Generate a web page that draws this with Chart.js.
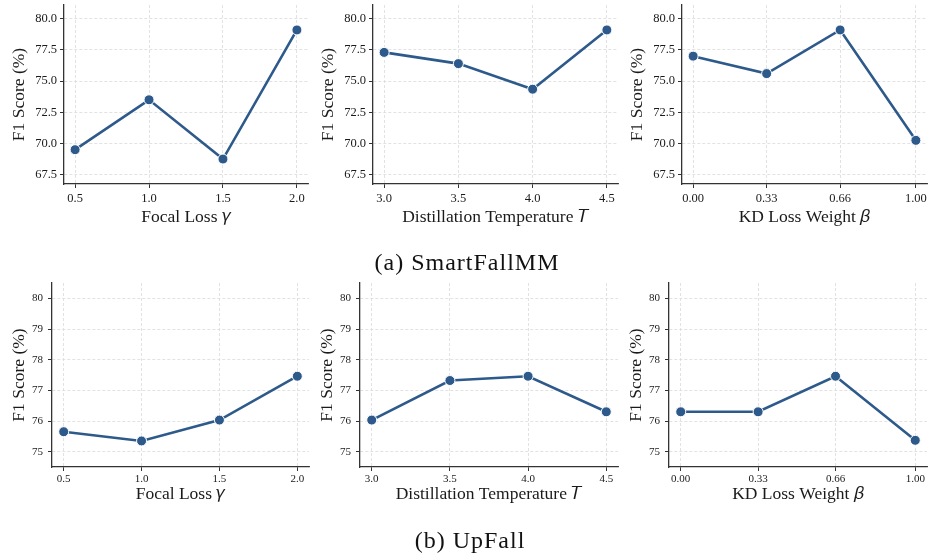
<!DOCTYPE html>
<html>
<head>
<meta charset="utf-8">
<script src="https://cdn.jsdelivr.net/npm/chart.js@4.4.1/dist/chart.umd.min.js"></script>
<style>
  html, body { margin: 0; padding: 0; background: #fff; }
  body { width: 928px; height: 554px; overflow: hidden; position: relative; }
  canvas { position: absolute; }
  .caption {
    position: absolute;
    font-family: 'Liberation Serif', serif;
    font-size: 24px;
    letter-spacing: 1px;
    color: #111;
    white-space: nowrap;
    transform: translate(-50%, -50%);
  }
</style>
</head>
<body>
<canvas id="p1"></canvas>
<canvas id="p2"></canvas>
<canvas id="p3"></canvas>
<canvas id="p4"></canvas>
<canvas id="p5"></canvas>
<canvas id="p6"></canvas>
<div class="caption" style="left:467px; top:262px">(a) SmartFallMM</div>
<div class="caption" style="left:470px; top:540px">(b) UpFall</div>

<script>
// x values swept in each study
const gammaValues = [0.5, 1.0, 1.5, 2.0];
const tempValues = [3.0, 3.5, 4.0, 4.5];
const betaValues = [0.00, 0.33, 0.66, 1.00];
const gammaLabels = ["0.5", "1.0", "1.5", "2.0"];
const tempLabels = ["3.0", "3.5", "4.0", "4.5"];
const betaLabels = ["0.00", "0.33", "0.66", "1.00"];

// F1 scores (%) - SmartFallMM
const smartGamma = [69.5, 73.5, 68.75, 79.1];
const smartTemp = [77.3, 76.4, 74.35, 79.1];
const smartBeta = [77.0, 75.6, 79.1, 70.25];

// F1 scores (%) - UpFall
const upGamma = [75.65, 75.35, 76.03, 77.46];
const upTemp = [76.03, 77.32, 77.46, 76.30];
const upBeta = [76.30, 76.30, 77.46, 75.37];

// y axis ticks and limits per row
const smartTicks = [67.5, 70.0, 72.5, 75.0, 77.5, 80.0];
const upTicks = [75, 76, 77, 78, 79, 80];
const smartRange = [66.75, 81.1];
const upRange = [74.5, 80.5];

const yTitle = "F1 Score (%)";
const gammaTitle = "Focal Loss 𝛾";
const tempTitle = "Distillation Temperature 𝑇";
const betaTitle = "KD Loss Weight 𝛽";

const SERIF = "'Liberation Serif', 'DejaVu Sans', serif";
const TEXT = "#1a1a1a";
const LINE = "#2d5a8b";

// page geometry of each plot area
const topRow = { top: 5, bottom: 184, canvasBottom: 236, yw: 64, tickSize: 12.5, yPad: 3, xPad: 3, xTitlePad: 7.6, digits: 1 };
const botRow = { top: 283, bottom: 467, canvasBottom: 516, yw: 52, tickSize: 11, yPad: 5, xPad: 2, xTitlePad: 10.6, digits: 0 };

function panel(id, row, spine, right, xs, xLabels, ys, yTicks, yRange, xTitle) {
  const canvas = document.getElementById(id);
  const padTop = 14, padRight = 12;
  const left = spine - row.yw;
  const top = row.top - padTop;
  canvas.width = right + padRight - left;
  canvas.height = row.canvasBottom - top;
  canvas.style.left = left + "px";
  canvas.style.top = top + "px";

  const span = xs[xs.length - 1] - xs[0];
  const gridOpts = {
    color: "#dadada",
    lineWidth: 0.8,
    tickColor: "#333",
    tickLength: 4,
    tickWidth: 1
  };
  const borderOpts = { color: "#333", width: 1.3, dash: [3, 2] };

  new Chart(canvas, {
    type: "line",
    data: {
      datasets: [{
        data: xs.map((x, i) => ({ x: x, y: ys[i] })),
        borderColor: LINE,
        backgroundColor: LINE,
        borderWidth: 2.6,
        pointRadius: 5,
        pointBackgroundColor: LINE,
        pointBorderColor: "#fff",
        pointBorderWidth: 1,
        tension: 0,
        clip: false
      }]
    },
    options: {
      responsive: false,
      animation: false,
      devicePixelRatio: 1,
      layout: { padding: { top: padTop, right: padRight, left: 0, bottom: 0 } },
      plugins: { legend: { display: false }, tooltip: { enabled: false } },
      scales: {
        x: {
          type: "linear",
          min: xs[0] - 0.05 * span,
          max: xs[xs.length - 1] + 0.05 * span,
          afterBuildTicks: s => { s.ticks = xs.map(v => ({ value: v })); },
          afterFit: s => { s.height = row.canvasBottom - row.bottom; },
          ticks: {
            callback: (v, i) => xLabels[i],
            font: { family: SERIF, size: row.tickSize },
            color: TEXT,
            padding: row.xPad,
            maxRotation: 0,
            autoSkip: false
          },
          grid: gridOpts,
          border: borderOpts,
          title: {
            display: true,
            text: xTitle,
            font: { family: SERIF, size: 17.5 },
            color: TEXT,
            padding: { top: 0, bottom: row.xTitlePad }
          }
        },
        y: {
          min: yRange[0],
          max: yRange[1],
          afterBuildTicks: s => { s.ticks = yTicks.map(v => ({ value: v })); },
          afterFit: s => { s.width = row.yw; },
          ticks: {
            callback: v => v.toFixed(row.digits),
            font: { family: SERIF, size: row.tickSize },
            color: TEXT,
            padding: row.yPad
          },
          grid: gridOpts,
          border: borderOpts,
          title: {
            display: true,
            text: yTitle,
            font: { family: SERIF, size: 17.5 },
            color: TEXT,
            padding: { top: 8.5, bottom: 0 }
          }
        }
      }
    }
  });
}

panel("p1", topRow, 64, 308, gammaValues, gammaLabels, smartGamma, smartTicks, smartRange, gammaTitle);
panel("p2", topRow, 373, 618, tempValues, tempLabels, smartTemp, smartTicks, smartRange, tempTitle);
panel("p3", topRow, 682, 927, betaValues, betaLabels, smartBeta, smartTicks, smartRange, betaTitle);
panel("p4", botRow, 52, 309, gammaValues, gammaLabels, upGamma, upTicks, upRange, gammaTitle);
panel("p5", botRow, 360, 618, tempValues, tempLabels, upTemp, upTicks, upRange, tempTitle);
panel("p6", botRow, 669, 927, betaValues, betaLabels, upBeta, upTicks, upRange, betaTitle);
</script>
</body>
</html>
